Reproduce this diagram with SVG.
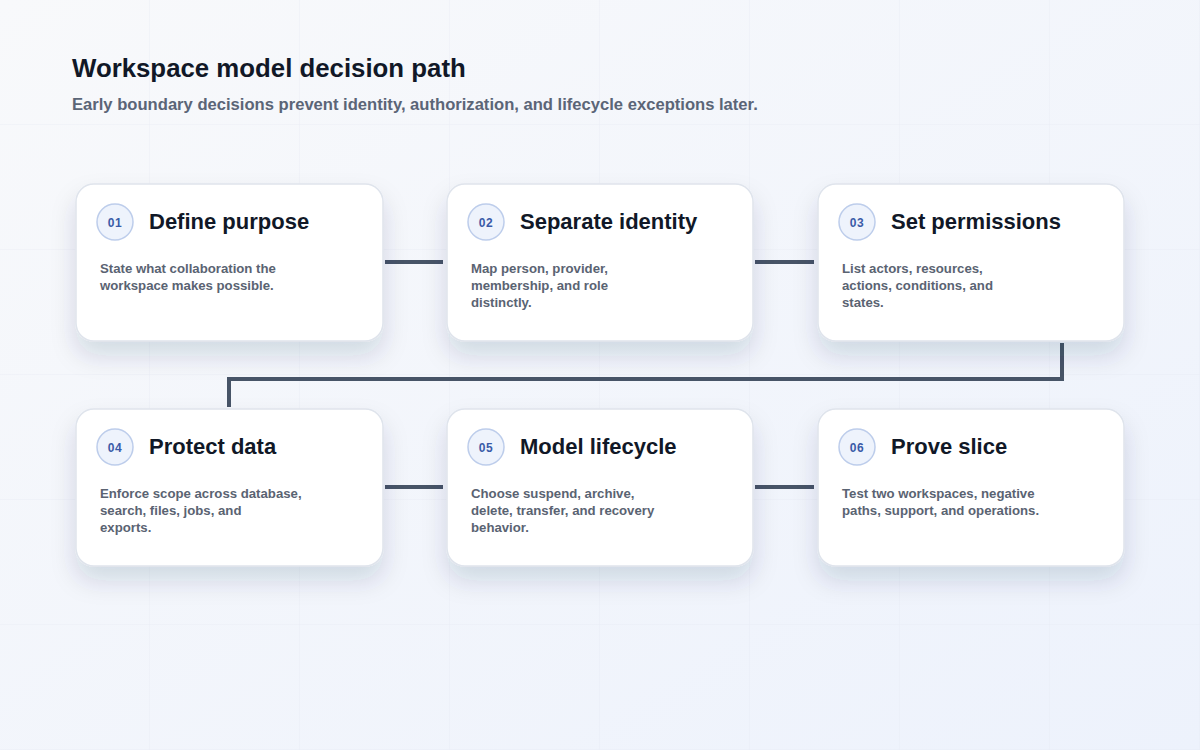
<svg xmlns="http://www.w3.org/2000/svg" width="1200" height="750" viewBox="0 0 1200 750">
  <defs>
    <linearGradient id="bg" x1="0" y1="0" x2="1" y2="1">
      <stop offset="0" stop-color="#f8f9fb"/>
      <stop offset="1" stop-color="#edf2fc"/>
    </linearGradient>
    <pattern id="grid" width="150" height="125" patternUnits="userSpaceOnUse">
      <path d="M150 0V125M0 125H150" fill="none" stroke="#e3e8f0" stroke-width="1" opacity="0.6"/>
    </pattern>
    <filter id="shadow" x="-20%" y="-20%" width="140%" height="170%">
      <feDropShadow dx="0" dy="14" stdDeviation="12" flood-color="#1e2a50" flood-opacity="0.14"/>
    </filter>
  </defs>
  <style>
    .card { fill: #ffffff; stroke: #dfe4ec; stroke-width: 1.5; filter: url(#shadow); }
    .badge { fill: #eef3fc; stroke: #bdcdeb; stroke-width: 1.5; }
    .num { font-family: "Liberation Sans", Arial, sans-serif; font-size: 12px; font-weight: 700; fill: #3a5ba8; text-anchor: middle; letter-spacing: 0.5px; }
    .title { font-family: "Liberation Sans", Arial, sans-serif; font-size: 22px; font-weight: 700; fill: #111827; }
    .desc { font-family: "Liberation Sans", Arial, sans-serif; font-size: 13.2px; font-weight: 700; fill: #5a6372; }
    .conn { fill: none; stroke: #475467; stroke-width: 4; }
    .h1 { font-family: "Liberation Sans", Arial, sans-serif; font-size: 25.8px; font-weight: 700; fill: #111827; }
    .h2 { font-family: "Liberation Sans", Arial, sans-serif; font-size: 16.6px; font-weight: 700; fill: #5b6577; }
  </style>
  <rect width="1200" height="750" fill="url(#bg)"/>
  <rect width="1200" height="750" fill="url(#grid)"/>

  <text class="h1" x="72" y="77">Workspace model decision path</text>
  <text class="h2" x="72" y="110">Early boundary decisions prevent identity, authorization, and lifecycle exceptions later.</text>

  <g id="connectors">
    <path class="conn" d="M385 262H443"/>
    <path class="conn" d="M755 262H814"/>
    <path class="conn" d="M1062 343V379H229V407"/>
    <path class="conn" d="M385 487H443"/>
    <path class="conn" d="M755 487H814"/>
  </g>

  <g id="node-01">
    <rect class="card" x="76" y="184" width="307" height="157" rx="18"/>
    <circle class="badge" cx="115" cy="222" r="18"/>
    <text class="num" x="115" y="227">01</text>
    <text class="title" x="149" y="229">Define purpose</text>
    <text class="desc" x="100" y="273">State what collaboration the</text>
    <text class="desc" x="100" y="290">workspace makes possible.</text>
  </g>

  <g id="node-02">
    <rect class="card" x="447" y="184" width="306" height="157" rx="18"/>
    <circle class="badge" cx="486" cy="222" r="18"/>
    <text class="num" x="486" y="227">02</text>
    <text class="title" x="520" y="229">Separate identity</text>
    <text class="desc" x="471" y="273">Map person, provider,</text>
    <text class="desc" x="471" y="290">membership, and role</text>
    <text class="desc" x="471" y="307">distinctly.</text>
  </g>

  <g id="node-03">
    <rect class="card" x="818" y="184" width="306" height="157" rx="18"/>
    <circle class="badge" cx="857" cy="222" r="18"/>
    <text class="num" x="857" y="227">03</text>
    <text class="title" x="891" y="229">Set permissions</text>
    <text class="desc" x="842" y="273">List actors, resources,</text>
    <text class="desc" x="842" y="290">actions, conditions, and</text>
    <text class="desc" x="842" y="307">states.</text>
  </g>

  <g id="node-04">
    <rect class="card" x="76" y="409" width="307" height="157" rx="18"/>
    <circle class="badge" cx="115" cy="447" r="18"/>
    <text class="num" x="115" y="452">04</text>
    <text class="title" x="149" y="454">Protect data</text>
    <text class="desc" x="100" y="498">Enforce scope across database,</text>
    <text class="desc" x="100" y="515">search, files, jobs, and</text>
    <text class="desc" x="100" y="532">exports.</text>
  </g>

  <g id="node-05">
    <rect class="card" x="447" y="409" width="306" height="157" rx="18"/>
    <circle class="badge" cx="486" cy="447" r="18"/>
    <text class="num" x="486" y="452">05</text>
    <text class="title" x="520" y="454">Model lifecycle</text>
    <text class="desc" x="471" y="498">Choose suspend, archive,</text>
    <text class="desc" x="471" y="515">delete, transfer, and recovery</text>
    <text class="desc" x="471" y="532">behavior.</text>
  </g>

  <g id="node-06">
    <rect class="card" x="818" y="409" width="306" height="157" rx="18"/>
    <circle class="badge" cx="857" cy="447" r="18"/>
    <text class="num" x="857" y="452">06</text>
    <text class="title" x="891" y="454">Prove slice</text>
    <text class="desc" x="842" y="498">Test two workspaces, negative</text>
    <text class="desc" x="842" y="515">paths, support, and operations.</text>
  </g>
</svg>
